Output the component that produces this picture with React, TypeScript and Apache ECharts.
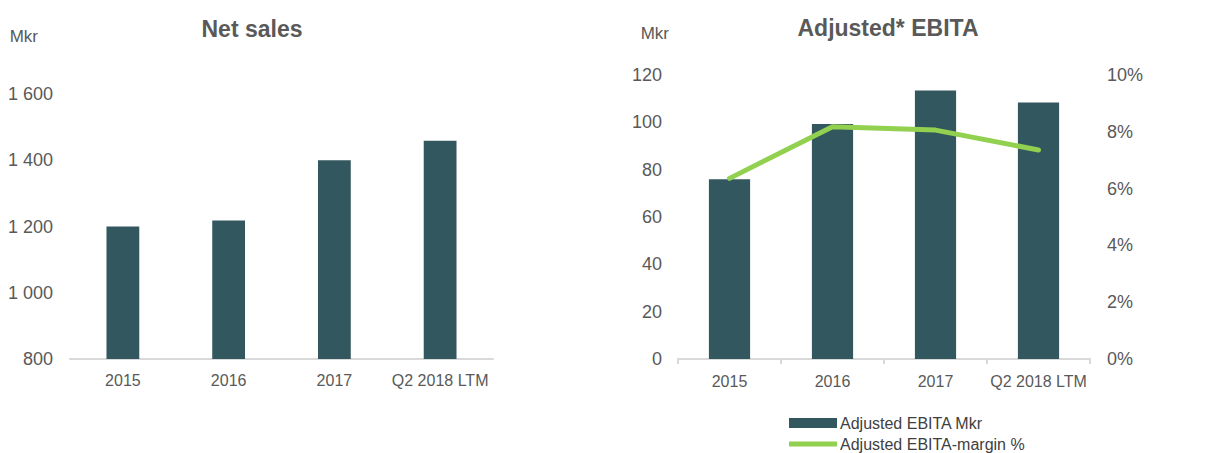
import React, { useEffect, useRef } from "react";
import * as echarts from "echarts";

const categories = ["2015", "2016", "2017", "Q2 2018 LTM"];
const netSales = [1200, 1218, 1400, 1459];
const ebita = [76, 99.3, 113.4, 108.4];
const ebitaMargin = [0.0636, 0.0818, 0.0806, 0.0736];
const netSalesTicks = { min: 800, max: 1600, interval: 200 };
const ebitaTicks = { min: 0, max: 120, interval: 20 };
const marginTicks = { min: 0, max: 0.1, interval: 0.02 };

const BAR = "#33575e";
const LINE = "#92d050";
const TEXT = "#595959";
const AXIS = "#d9d9d9";
const FONT = "'Liberation Sans', Arial, sans-serif";

const fmtThousands = (v: number) =>
  String(Math.round(v)).replace(/\B(?=(\d{3})+(?!\d))/g, " ");

export default function App() {
  const ref = useRef<HTMLDivElement>(null);
  useEffect(() => {
    if (!ref.current) return;
    const chart = echarts.init(ref.current, undefined, { renderer: "svg" });
    chart.setOption({
      animation: false,
      textStyle: { fontFamily: FONT },
      title: [
        {
          text: "Net sales",
          left: 247,
          top: 12,
          textAlign: "center",
          textStyle: { fontFamily: FONT, fontSize: 23, fontWeight: "bold", color: TEXT },
        },
        {
          text: "Adjusted* EBITA",
          left: 883,
          top: 11,
          textAlign: "center",
          textStyle: { fontFamily: FONT, fontSize: 23, fontWeight: "bold", color: TEXT },
        },
      ],
      legend: {
        orient: "vertical",
        left: 789,
        top: 415,
        padding: 0,
        itemWidth: 48,
        itemHeight: 10,
        itemGap: 5,
        selectedMode: false,
        textStyle: { fontFamily: FONT, fontSize: 16, color: "#404040", padding: [0, 0, 0, -2] },
        data: [
          { name: "Adjusted EBITA Mkr", icon: "rect" },
          {
            name: "Adjusted EBITA-margin %",
            icon: "path://M0,0 L48,0 L48,5 L0,5 Z",
            itemStyle: { color: LINE },
          },
        ],
      },
      grid: [
        { left: 70, right: 1225 - 493, top: 94, bottom: 453 - 359, containLabel: false },
        { left: 678, right: 1225 - 1090, top: 75, bottom: 453 - 359, containLabel: false },
      ],
      xAxis: [
        {
          type: "category",
          gridIndex: 0,
          data: categories,
          axisLine: { lineStyle: { color: AXIS, width: 2 } },
          axisTick: { show: false },
          axisLabel: { color: TEXT, fontSize: 16, margin: 13, fontFamily: FONT, interval: 0 },
        },
        {
          type: "category",
          gridIndex: 1,
          data: categories,
          axisLine: { lineStyle: { color: AXIS, width: 2 } },
          axisTick: { show: true, length: 5, lineStyle: { color: AXIS, width: 2 } },
          axisLabel: { color: TEXT, fontSize: 16, margin: 14, fontFamily: FONT, interval: 0 },
        },
      ],
      yAxis: [
        {
          type: "value",
          gridIndex: 0,
          min: netSalesTicks.min,
          max: netSalesTicks.max,
          interval: netSalesTicks.interval,
          name: "Mkr",
          nameLocation: "end",
          nameGap: 49,
          nameTextStyle: { color: TEXT, fontSize: 17, align: "right", padding: [0, 32, 0, 0], fontFamily: FONT },
          axisLine: { show: false },
          axisTick: { show: false },
          splitLine: { show: false },
          axisLabel: { color: TEXT, fontSize: 18, margin: 17, fontFamily: FONT, formatter: fmtThousands },
        },
        {
          type: "value",
          gridIndex: 1,
          min: ebitaTicks.min,
          max: ebitaTicks.max,
          interval: ebitaTicks.interval,
          name: "Mkr",
          nameLocation: "end",
          nameGap: 33,
          nameTextStyle: { color: TEXT, fontSize: 17, align: "right", padding: [0, 9, 0, 0], fontFamily: FONT },
          axisLine: { show: false },
          axisTick: { show: false },
          splitLine: { show: false },
          axisLabel: { color: TEXT, fontSize: 18, margin: 16, fontFamily: FONT },
        },
        {
          type: "value",
          gridIndex: 1,
          position: "right",
          min: marginTicks.min,
          max: marginTicks.max,
          interval: marginTicks.interval,
          axisLine: { show: false },
          axisTick: { show: false },
          splitLine: { show: false },
          axisLabel: {
            color: TEXT,
            fontSize: 18,
            margin: 17,
            fontFamily: FONT,
            formatter: (v: number) => `${Math.round(v * 100)}%`,
          },
        },
      ],
      series: [
        {
          name: "Net sales",
          type: "bar",
          xAxisIndex: 0,
          yAxisIndex: 0,
          data: netSales,
          barWidth: "31%",
          itemStyle: { color: BAR },
        },
        {
          name: "Adjusted EBITA Mkr",
          type: "bar",
          xAxisIndex: 1,
          yAxisIndex: 1,
          data: ebita,
          barWidth: "40%",
          itemStyle: { color: BAR },
        },
        {
          name: "Adjusted EBITA-margin %",
          type: "line",
          xAxisIndex: 1,
          yAxisIndex: 2,
          data: ebitaMargin,
          symbol: "none",
          lineStyle: { color: LINE, width: 5, cap: "round", join: "round" },
          itemStyle: { color: LINE },
        },
      ],
    });
    return () => chart.dispose();
  }, []);
  return (
    <div
      ref={ref}
      style={{ position: "fixed", left: 0, top: 0, width: 1225, height: 453, background: "#fff" }}
    />
  );
}
